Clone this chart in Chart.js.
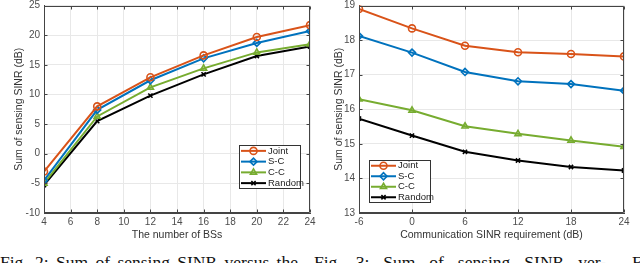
<!DOCTYPE html>
<html>
<head>
<meta charset="utf-8">
<script src="https://cdn.jsdelivr.net/npm/chart.js@4.4.0/dist/chart.umd.min.js"></script>
<style>
  body { margin: 0; width: 640px; height: 263px; overflow: hidden; background: #fff; position: relative; }
  canvas { position: absolute; top: 0; }
  #bsChart { left: 0; }
  #reqChart { left: 320px; }
  .cap { position: absolute; top: 254px; font-family: "Liberation Serif", "Times New Roman", serif; font-size: 17.5px; line-height: 1; text-align: justify; text-align-last: justify; color: #111; }
</style>
</head>
<body>
<canvas id="bsChart" width="320" height="245"></canvas>
<canvas id="reqChart" width="320" height="245"></canvas>
<div class="cap" style="left:0px;width:298px">Fig. 2: Sum of sensing SINR versus the</div>
<div class="cap" style="left:314px;width:292px">Fig. 3: Sum of sensing SINR ver-</div>
<div class="cap" style="left:632px;width:20px">F</div>
<script>
// Fig. 2 - number of BSs
const bsCounts = [4, 8, 12, 16, 20, 24];
const jointBS = [-3.0, 8.0, 12.9, 16.6, 19.7, 21.7];
const scBS = [-4.5, 7.4, 12.4, 16.1, 18.7, 20.7];
const ccBS = [-5.0, 6.3, 11.2, 14.4, 17.1, 18.5];
const randomBS = [-5.3, 5.5, 9.8, 13.4, 16.5, 18.1];

// Fig. 3 - communication SINR requirement
const commReq = [-6, 0, 6, 12, 18, 24];
const jointReq = [18.9, 18.34, 17.84, 17.65, 17.6, 17.53];
const scReq = [18.12, 17.64, 17.08, 16.81, 16.73, 16.54];
const ccReq = [16.29, 15.97, 15.51, 15.29, 15.1, 14.92];
const randomReq = [15.73, 15.24, 14.77, 14.52, 14.33, 14.23];

const schemes = ["Joint", "S-C", "C-C", "Random"];
const colors = ["#D95319", "#0072BD", "#77AC30", "#000000"];
const markers = ["circle", "rectRot", "triangle", "crossRot"];

Chart.defaults.font.family = '"Liberation Sans", Arial, sans-serif';

// matlab-ish frame, inward ticks and a legend inside the axes
const matlabBox = {
  id: "matlabBox",
  afterDraw(chart, args, opts) {
    const { ctx, chartArea: a, scales } = chart;
    const L = Math.round(a.left) + 0.5, R = Math.round(a.right) - 0.5;
    const T = Math.round(a.top) + 0.5, B = Math.round(a.bottom) - 0.5;
    ctx.save();
    ctx.strokeStyle = "#444";
    ctx.lineWidth = 1;
    ctx.beginPath();
    ctx.moveTo(L, T); ctx.lineTo(R, T); ctx.lineTo(R, B); ctx.lineTo(L, B); ctx.closePath();
    scales.x.ticks.forEach(t => {
      const x = Math.round(scales.x.getPixelForValue(t.value)) + 0.5;
      ctx.moveTo(x, B); ctx.lineTo(x, B - 3);
      ctx.moveTo(x, T); ctx.lineTo(x, T + 3);
    });
    scales.y.ticks.forEach(t => {
      const y = Math.round(scales.y.getPixelForValue(t.value)) + 0.5;
      ctx.moveTo(L, y); ctx.lineTo(L + 3, y);
      ctx.moveTo(R, y); ctx.lineTo(R - 3, y);
    });
    ctx.stroke();

    // legend
    const b = opts.box;
    ctx.fillStyle = "#fff";
    ctx.fillRect(b.x, b.y, b.w, b.h);
    ctx.strokeStyle = "#333";
    ctx.strokeRect(b.x + 0.5, b.y + 0.5, b.w, b.h);
    const rowH = b.h / chart.data.datasets.length;
    chart.data.datasets.forEach((ds, i) => {
      const cy = b.y + rowH * (i + 0.5) + 0.5;
      ctx.strokeStyle = ds.borderColor;
      ctx.lineWidth = 2;
      ctx.beginPath();
      ctx.moveTo(b.x + 2, cy); ctx.lineTo(b.x + 27, cy);
      ctx.stroke();
      ctx.fillStyle = "rgba(0,0,0,0)";
      ctx.lineWidth = ds.pointBorderWidth;
      Chart.helpers.drawPoint(ctx, {
        pointStyle: ds.pointStyle, radius: ds.pointRadius, borderWidth: ds.pointBorderWidth, rotation: 0
      }, b.x + 14.5, cy);
      ctx.fillStyle = "#222";
      ctx.font = '9.5px "Liberation Sans", Arial, sans-serif';
      ctx.textBaseline = "middle";
      ctx.fillText(ds.label, b.x + 29, cy);
    });
    ctx.restore();
  }
};

function makeSeries(xs, ys, i) {
  return {
    label: schemes[i],
    data: xs.map((x, k) => ({ x: x, y: ys[k] })),
    borderColor: colors[i],
    backgroundColor: "rgba(0,0,0,0)",
    pointBackgroundColor: "rgba(0,0,0,0)",
    pointBorderColor: colors[i],
    pointStyle: markers[i],
    pointRadius: i === 3 ? 3 : 3.5,
    pointBorderWidth: 1.6,
    borderWidth: 2,
    tension: 0
  };
}

function makeChart(id, xs, ys, xr, yr, xTitle, yWidth, pad, legendBox) {
  const tickFont = { size: 10 };
  new Chart(document.getElementById(id), {
    type: "line",
    data: { datasets: ys.map((s, i) => makeSeries(xs, s, i)) },
    options: {
      responsive: false,
      animation: false,
      layout: { padding: pad },
      plugins: { legend: { display: false }, tooltip: { enabled: false }, matlabBox: { box: legendBox } },
      scales: {
        x: {
          type: "linear", min: xr[0], max: xr[1],
          ticks: { stepSize: xr[2], color: "#4d4d4d", font: tickFont, padding: 3, maxRotation: 0, autoSkip: false },
          grid: { color: "#e8e8e8", drawTicks: false },
          border: { color: "#444" },
          title: { display: true, text: xTitle, color: "#333", font: { size: 10.5 }, padding: { top: 0, bottom: 4 } },
          afterFit(s) { s.height = 32; s.paddingLeft = 0; s.paddingRight = 0; }
        },
        y: {
          min: yr[0], max: yr[1],
          ticks: { stepSize: yr[2], color: "#4d4d4d", font: tickFont, padding: 4 },
          grid: { color: "#e8e8e8", drawTicks: false },
          border: { color: "#444" },
          title: { display: true, text: "Sum of sensing SINR (dB)", color: "#333", font: { size: 10.5 }, padding: { top: 13, bottom: 0 } },
          afterFit(s) { s.width = yWidth; s.paddingTop = 0; s.paddingBottom = 0; }
        }
      }
    },
    plugins: [matlabBox]
  });
}

makeChart("bsChart", bsCounts, [jointBS, scBS, ccBS, randomBS], [4, 24, 2], [-10, 25, 5],
  "The number of BSs", 44, { top: 3, right: 10, left: 0, bottom: 0 }, { x: 239, y: 145, w: 61, h: 43 });
makeChart("reqChart", commReq, [jointReq, scReq, ccReq, randomReq], [-6, 24, 6], [13, 19, 1],
  "Communication SINR requirement (dB)", 39, { top: 4, right: 16, left: 0, bottom: 0 }, { x: 49, y: 160, w: 61, h: 42 });
</script>
</body>
</html>
